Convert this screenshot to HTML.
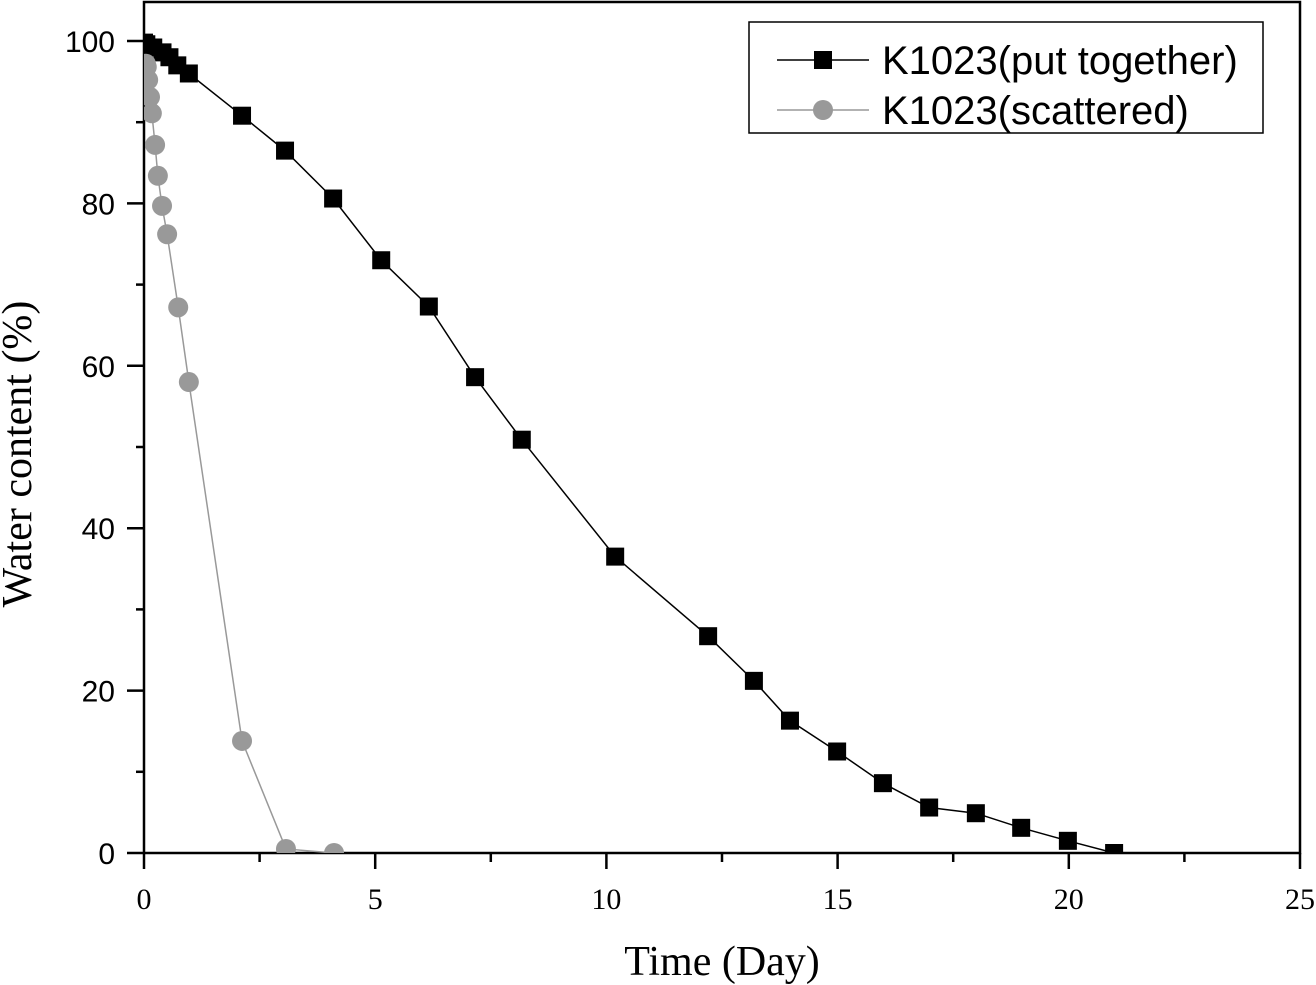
<!DOCTYPE html>
<html><head><meta charset="utf-8"><style>
body{margin:0;background:#fff;}
svg{display:block;}
.xtick{font-family:"Liberation Serif",serif;font-size:30px;fill:#000;}
.ytick{font-family:"Liberation Sans",sans-serif;font-size:30px;fill:#000;}
.leg{font-family:"Liberation Sans",sans-serif;font-size:40px;fill:#000;}
.title{font-family:"Liberation Serif",serif;font-size:42px;fill:#000;}
</style></head><body>
<svg id="chart" width="1316" height="985" viewBox="0 0 1316 985">
<defs><clipPath id="clip"><rect x="144" y="0" width="1156" height="853"/></clipPath></defs>
<g id="axes"></g>
<g id="series" clip-path="url(#clip)"></g>
<g id="legend">
<rect x="749" y="22" width="514" height="111" fill="#fff" stroke="#000" stroke-width="1.5"/>
<line x1="777" y1="60" x2="869" y2="60" stroke="#000" stroke-width="1.5"/>
<rect x="814" y="51" width="18" height="18" fill="#000"/>
<text class="leg" x="882" y="74">K1023(put together)</text>
<line x1="777" y1="110" x2="869" y2="110" stroke="#999" stroke-width="1.5"/>
<circle cx="823" cy="110" r="10" fill="#999"/>
<text class="leg" x="882" y="124">K1023(scattered)</text>
</g>
<text class="title" x="722" y="975" text-anchor="middle">Time (Day)</text>
<text class="title" transform="translate(31,454) rotate(-90)" text-anchor="middle">Water content (%)</text>
</svg>
<script>
const togetherX=[0,0.05,0.2,0.4,0.55,0.72,0.97,2.12,3.05,4.09,5.13,6.16,7.16,8.17,10.19,12.2,13.19,13.97,14.99,15.98,16.98,17.99,18.97,19.98,20.98];
const togetherY=[99.8,99.6,99.2,98.6,98,97,96,90.8,86.5,80.6,73,67.3,58.6,50.9,36.5,26.7,21.2,16.3,12.5,8.6,5.6,4.9,3.1,1.5,0];
const scatterX=[0.04,0.06,0.09,0.13,0.17,0.24,0.3,0.39,0.5,0.74,0.97,2.12,3.07,4.11];
const scatterY=[97.2,96.8,95.2,93.1,91.1,87.2,83.4,79.7,76.2,67.2,58,13.8,0.5,0];
const xTicks=[0,5,10,15,20,25];
const yTicks=[0,20,40,60,80,100];
const NS="http://www.w3.org/2000/svg";
const X0=144,X1=1300,Y0=853,Y100=41;
function sx(v){return X0+(v/25)*(X1-X0);}
function sy(v){return Y0-(v/100)*(Y0-Y100);}
function mk(tag,attrs,parent){const e=document.createElementNS(NS,tag);for(const k in attrs)e.setAttribute(k,attrs[k]);parent.appendChild(e);return e;}
const axes=document.getElementById('axes');
let el;
el=mk('rect',{x:X0,y:2,width:X1-X0,height:Y0-2,fill:'none',stroke:'#000','stroke-width':2.5},axes);


xTicks.forEach(t=>{
 el=mk('line',{x1:sx(t),y1:Y0,x2:sx(t),y2:Y0+16,stroke:'#000','stroke-width':2.5},axes);
 
 
 el=mk('text',{x:sx(t),y:Y0+56,'text-anchor':'middle',class:'xtick'},axes);el.textContent=t;
 
 
 if(t<25){el=mk('line',{x1:sx(t+2.5),y1:Y0,x2:sx(t+2.5),y2:Y0+9,stroke:'#000','stroke-width':2.5},axes);
 
 }
});
yTicks.forEach(t=>{
 el=mk('line',{x1:X0-17,y1:sy(t),x2:X0,y2:sy(t),stroke:'#000','stroke-width':2.5},axes);
 
 
 el=mk('text',{x:X0-29,y:sy(t)+11,'text-anchor':'end',class:'ytick'},axes);el.textContent=t;
 
 
 if(t<100){el=mk('line',{x1:X0-8,y1:sy(t+10),x2:X0,y2:sy(t+10),stroke:'#000','stroke-width':2.5},axes);
 
 }
});
const ser=document.getElementById('series');
function pts(xs,ys){return xs.map((x,i)=>sx(x)+','+sy(ys[i])).join(' ');}
el=mk('polyline',{points:pts(scatterX,scatterY),fill:'none',stroke:'#999','stroke-width':1.5},ser);


el=mk('polyline',{points:pts(togetherX,togetherY),fill:'none',stroke:'#000','stroke-width':1.5},ser);


togetherX.forEach((x,i)=>{
 el=mk('rect',{x:sx(x)-9,y:sy(togetherY[i])-9,width:18,height:18,fill:'#000'},ser);
 
 
});
scatterX.forEach((x,i)=>{
 el=mk('circle',{cx:sx(x),cy:sy(scatterY[i]),r:10,fill:'#999'},ser);
 
 
});
</script>
</body></html>
